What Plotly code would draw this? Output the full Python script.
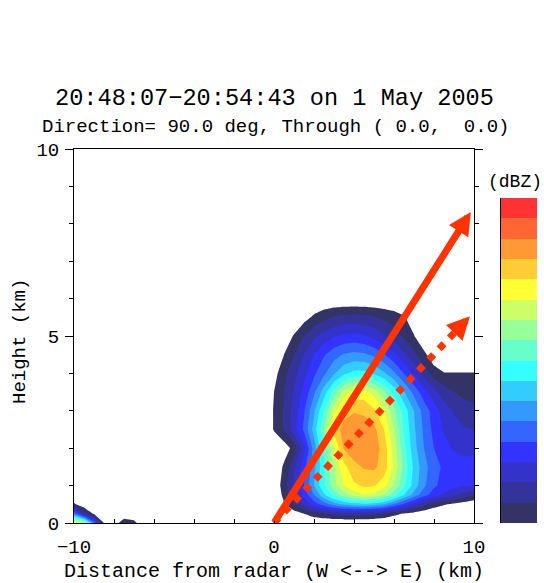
import plotly.graph_objects as go

# ---------------- data ----------------
x_main = [-0.5, 0, 0.5, 1, 1.5, 2, 2.5, 3, 3.5, 4, 4.5, 5, 5.5, 6, 6.5, 7, 7.5, 8, 8.5, 9, 9.5, 10]
z_main = [0, 0.25, 0.5, 0.75, 1, 1.5, 2, 2.5, 3, 3.5, 4, 4.5, 5, 5.5, 6]
refl_main = [
    [0, 0, 0, 0, 0, 0, 0, 0, 0, 0, 0, 0, 0, 0, 0, 0, 0, 0, 0, 0, 0, 0],
    [0, 0, 0, 0.5, 1.0, 1.6, 2.0, 2.4, 2.6, 2.6, 2.5, 2.3, 1.9, 1.3, 0.9, 0.6, 0.3, 0, 0, 0, 0, 0],
    [0, 0, 0.9, 2.0, 3.2, 4.5, 5.5, 6.5, 7.2, 7.6, 7.8, 7.5, 7.0, 6.0, 4.8, 3.6, 2.4, 1.6, 1.1, 0.8, 0.5, 0.2],
    [0, 0, 1.3, 2.8, 4.3, 6.0, 7.8, 9.3, 10.5, 11.4, 11.9, 11.7, 10.9, 9.5, 8.0, 6.6, 5.4, 4.5, 3.8, 3.2, 2.6, 2.0],
    [0, 0, 1.6, 3.2, 5.0, 7.0, 8.9, 10.6, 12.0, 12.8, 13.2, 13.1, 12.4, 10.9, 9.2, 7.6, 6.2, 5.2, 4.6, 4.3, 4.1, 4.0],
    [0, 0, 1.2, 2.8, 4.6, 6.7, 8.9, 11.0, 12.7, 13.7, 14.1, 14.2, 13.6, 11.8, 9.7, 7.8, 6.4, 5.4, 4.8, 4.5, 4.4, 4.4],
    [0, 0, 0.4, 1.4, 3.7, 6.4, 9.2, 11.8, 14.1, 14.6, 14.6, 14.5, 13.6, 11.5, 9.3, 7.4, 6.0, 5.0, 4.3, 3.9, 3.7, 3.7],
    [0, 1.1, 2.1, 3.5, 5.2, 7.4, 10.0, 13.4, 14.4, 14.7, 14.6, 14.3, 13.0, 11.0, 8.9, 7.2, 5.8, 4.7, 3.9, 3.4, 3.1, 3.0],
    [0, 1.1, 2.1, 3.4, 4.9, 6.8, 9.0, 11.6, 13.6, 13.9, 13.8, 13.2, 12.0, 10.3, 8.6, 7.0, 5.6, 4.5, 3.5, 2.9, 2.5, 2.3],
    [0, 1.0, 2.0, 3.1, 4.3, 5.8, 7.5, 9.4, 11.4, 12.4, 12.4, 11.6, 10.2, 8.7, 7.1, 5.7, 4.4, 3.3, 2.5, 2.0, 1.7, 1.6],
    [0, 0.6, 1.7, 2.7, 3.7, 4.8, 5.8, 6.9, 7.8, 8.3, 8.3, 7.9, 7.2, 6.2, 5.0, 3.8, 2.6, 1.5, 1.05, 1.05, 1.05, 1.05],
    [0, 0, 1.0, 2.0, 3.0, 4.0, 4.9, 5.6, 6.1, 6.3, 6.2, 5.8, 5.1, 4.2, 3.2, 2.3, 1.3, 0.3, 0, 0, 0, 0],
    [0, 0, 0.3, 1.1, 2.0, 2.8, 3.4, 3.9, 4.2, 4.3, 4.1, 3.7, 3.1, 2.5, 1.8, 1.05, 0, 0, 0, 0, 0, 0],
    [0, 0, 0, 0, 0.6, 1.2, 1.7, 2.1, 2.3, 2.4, 2.3, 2.1, 1.8, 1.5, 1.1, 0.4, 0, 0, 0, 0, 0, 0],
    [0, 0, 0, 0, 0, 0, 0, 0, 0, 0, 0, 0, 0, 0, 0, 0, 0, 0, 0, 0, 0, 0],
]

x_west = [-10, -9.5, -9, -8.5, -8, -7.5, -7, -6.5]
z_west = [0, 0.25, 0.5, 0.75]
refl_west = [
    [13, 11.5, 6, 1.0, 0.3, 1.8, 1.4, 0],
    [6, 2.5, 0.8, 0, 0, 0, 0, 0],
    [1.2, 0.2, 0, 0, 0, 0, 0, 0],
    [0, 0, 0, 0, 0, 0, 0, 0],
]

band_levels = list(range(1, 17))
band_colors = ["#333366", "#333399", "#3333CC", "#3333FF", "#3366FF", "#3399FF",
               "#33CCFF", "#33FFFF", "#66FFCC", "#99FF99", "#CCFF66", "#FFFF33",
               "#FFCC33", "#FF9933", "#FF6633", "#FF3333"]

ray_x = [0, 10]
solid_ray_z = [0, 8.45]
dotted_ray_z = [0, 5.64]

x_ticks = [-10, 0, 10]
y_ticks = [0, 5, 10]

title_1 = "20:48:07\u221220:54:43 on 1 May 2005"
title_2 = "Direction= 90.0 deg, Through ( 0.0,  0.0)"
x_title = "Distance from radar (W <--> E) (km)"
y_title = "Height (km)"
cbar_title = "(dBZ)"

# ---------------- styling ----------------
FONT = "Liberation Mono"
RED = "#FF3300"
W, H = 544, 583
ML, MR, MT, MB = 74, 2, 149, 60
PW = W - ML - MR
PH = H - MT - MB

colorscale = [[0.0, "#FFFFFF"]] + [[k / 16, c] for k, c in zip(band_levels, band_colors)]

def nbsp(s):
    return s.replace(" ", "\u00a0")

fig = go.Figure()

contour_style = dict(
    colorscale=colorscale, showscale=False, hoverinfo="skip",
    contours=dict(start=band_levels[0], end=band_levels[-1], size=1,
                  coloring="fill", showlines=False),
    line=dict(width=0, smoothing=0),
)
fig.add_trace(go.Contour(x=x_main, y=z_main, z=refl_main, **contour_style))
fig.add_trace(go.Contour(x=x_west, y=z_west, z=refl_west, **contour_style))

frac = 0.93
fig.add_trace(go.Scatter(
    x=[ray_x[0], ray_x[0] + frac * (ray_x[1] - ray_x[0])],
    y=[dotted_ray_z[0], dotted_ray_z[0] + frac * (dotted_ray_z[1] - dotted_ray_z[0])],
    mode="lines", line=dict(color=RED, width=7, dash="7px,8px"),
    hoverinfo="skip", showlegend=False))

fig.add_trace(go.Heatmap(
    x=[0], y=band_levels, z=[[v] for v in band_levels],
    colorscale=colorscale, zmin=0, zmax=16, showscale=False,
    xaxis="x2", yaxis="y2", hoverinfo="skip"))

arrow_common = dict(xref="x", yref="y", axref="x", ayref="y", text="",
                    showarrow=True, arrowhead=2, arrowsize=0.65, arrowwidth=7,
                    arrowcolor=RED, standoff=5.9, font=dict(size=1))
annotations = [
    dict(x=ray_x[1], y=solid_ray_z[1], ax=ray_x[0], ay=solid_ray_z[0], **arrow_common),
    dict(x=ray_x[1], y=dotted_ray_z[1],
         ax=ray_x[0] + 0.9 * (ray_x[1] - ray_x[0]),
         ay=dotted_ray_z[0] + 0.9 * (dotted_ray_z[1] - dotted_ray_z[0]), **arrow_common),
    dict(text=nbsp(title_1), xref="paper", yref="paper", x=(274 - ML) / PW, y=(523 - 99) / PH,
         showarrow=False, xanchor="center", yanchor="middle",
         font=dict(family=FONT, size=23.6, color="black")),
    dict(text=nbsp(title_2), xref="paper", yref="paper", x=(275 - ML) / PW, y=(523 - 127) / PH,
         showarrow=False, xanchor="center", yanchor="middle",
         font=dict(family=FONT, size=19, color="black")),
    dict(text=nbsp(x_title), xref="paper", yref="paper", x=(274 - ML) / PW, y=(523 - 571) / PH,
         showarrow=False, xanchor="center", yanchor="middle",
         font=dict(family=FONT, size=20, color="black")),
    dict(text=nbsp(y_title), xref="paper", yref="paper", x=(20 - ML) / PW, y=(523 - 342) / PH,
         showarrow=False, xanchor="center", yanchor="middle", textangle=-90,
         font=dict(family=FONT, size=19, color="black")),
    dict(text=cbar_title, xref="paper", yref="paper", x=(515 - ML) / PW, y=(523 - 182) / PH,
         showarrow=False, xanchor="center", yanchor="middle",
         font=dict(family=FONT, size=18, color="black")),
]

fig.update_layout(
    width=W, height=H, autosize=False,
    margin=dict(l=ML, r=MR, t=MT, b=MB, pad=0, autoexpand=False),
    paper_bgcolor="white", plot_bgcolor="white",
    showlegend=False,
    annotations=annotations,
    xaxis=dict(domain=[0, 400 / PW], range=[-10, 10], tickvals=x_ticks,
               ticks="inside", ticklen=6, tickcolor="black", tickwidth=1,
               minor=dict(dtick=2, tick0=-10, ticks="inside", ticklen=4, tickcolor="black"),
               showline=True, linecolor="black", linewidth=1, mirror=True,
               showgrid=False, zeroline=False, ticklabelstandoff=6, automargin=False,
               tickfont=dict(family=FONT, size=19, color="black")),
    yaxis=dict(domain=[0, 1], range=[0, 10], tickvals=y_ticks,
               ticks="outside", ticklen=8, tickcolor="black", tickwidth=1,
               minor=dict(dtick=1, tick0=0, ticks="outside", ticklen=4, tickcolor="black"),
               showline=True, linecolor="black", linewidth=1, mirror="ticks",
               showgrid=False, zeroline=False, ticklabelstandoff=2, automargin=False,
               tickfont=dict(family=FONT, size=19, color="black")),
    xaxis2=dict(domain=[(501 - ML) / PW, (537 - ML) / PW], anchor="y2", range=[-0.5, 0.5],
                visible=False, fixedrange=True, automargin=False),
    yaxis2=dict(domain=[0, (523 - 198) / PH], anchor="x2", range=[0.5, 16.5],
                showline=True, linecolor="black", linewidth=1, ticks="",
                showticklabels=False, showgrid=False, zeroline=False, fixedrange=True,
                automargin=False),
)

fig.write_html(
    "out.html",
    config={"responsive": False, "displayModeBar": False},
    post_script="document.body.style.margin='0px';document.body.style.overflow='hidden';",
)
